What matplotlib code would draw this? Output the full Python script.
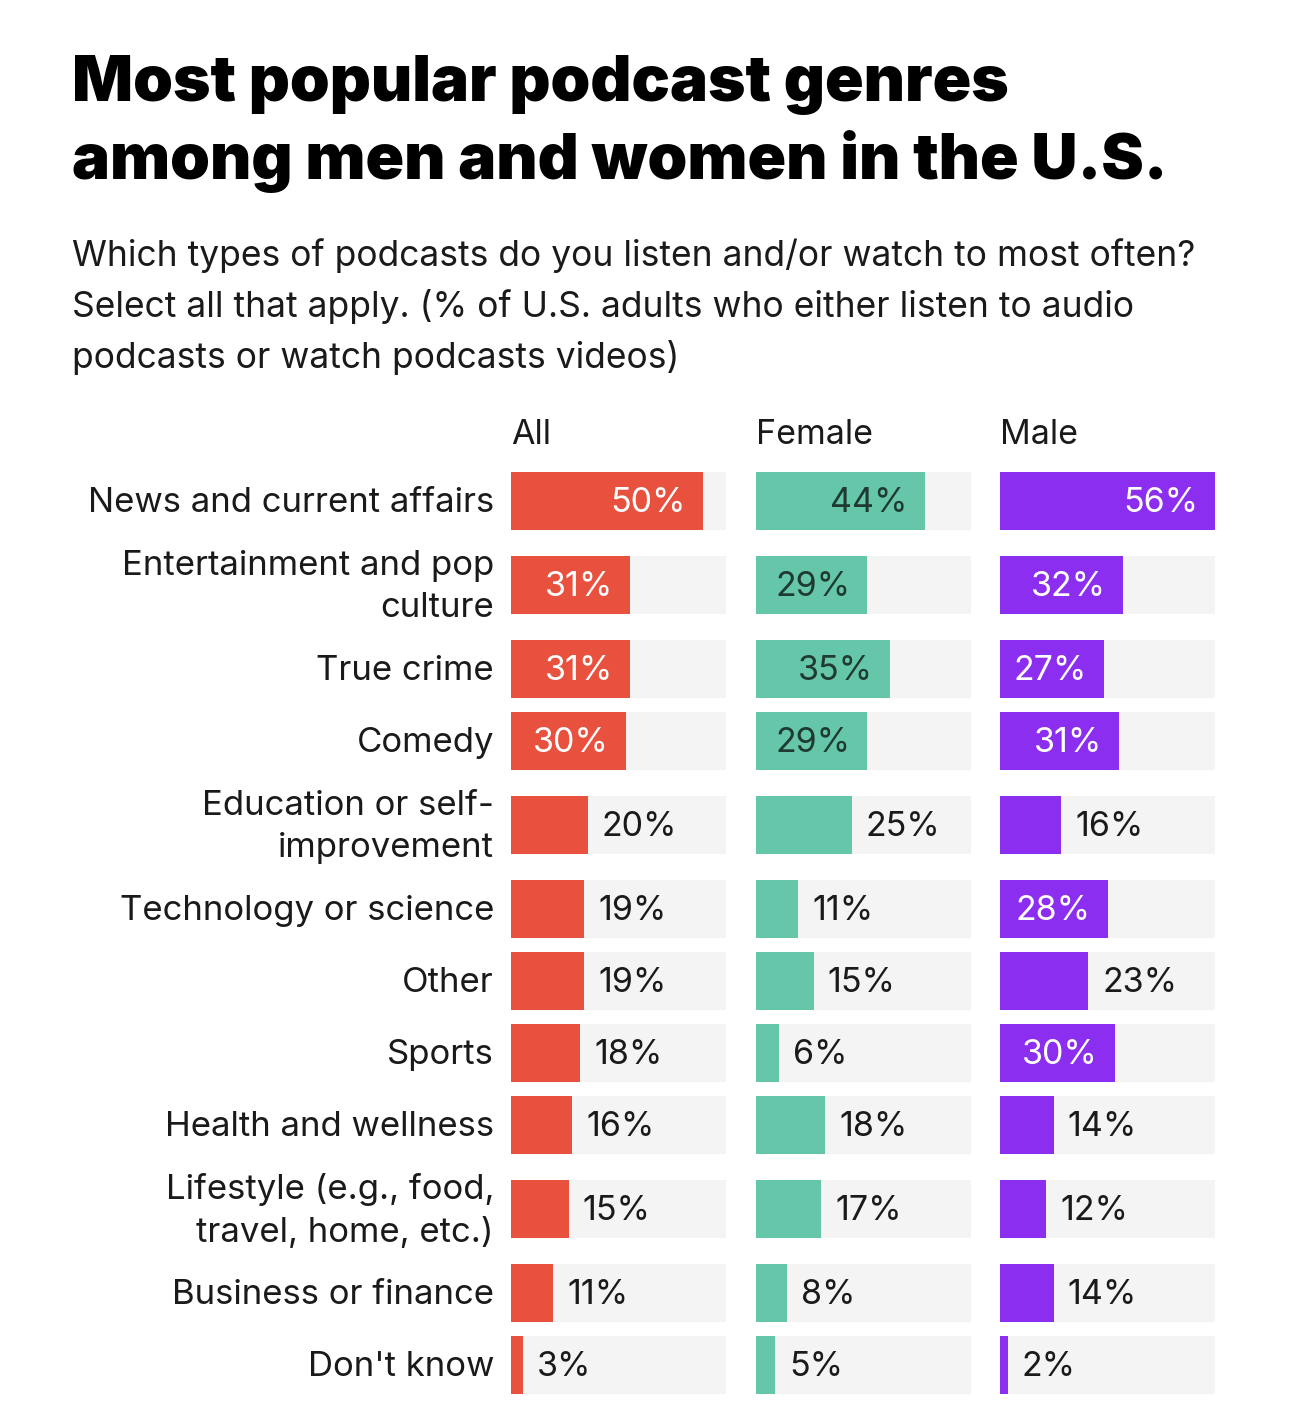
import matplotlib
matplotlib.use("Agg")
import matplotlib.pyplot as plt
from matplotlib.patches import Rectangle

# data
genres = ["News and current affairs", "Entertainment and pop\nculture", "True crime", "Comedy",
          "Education or self-\nimprovement", "Technology or science", "Other", "Sports",
          "Health and wellness", "Lifestyle (e.g., food,\ntravel, home, etc.)",
          "Business or finance", "Don't know"]
all_vals = [50, 31, 31, 30, 20, 19, 19, 18, 16, 15, 11, 3]
female_vals = [44, 29, 35, 29, 25, 11, 15, 6, 18, 17, 8, 5]
male_vals = [56, 32, 27, 31, 16, 28, 23, 30, 14, 12, 14, 2]
groups = ["All", "Female", "Male"]

title = "Most popular podcast genres\namong men and women in the U.S."
subtitle = ("Which types of podcasts do you listen and/or watch to most often?\n"
            "Select all that apply. (% of U.S. adults who either listen to audio\n"
            "podcasts or watch podcasts videos)")

colors = ["#e8513d", "#66c6aa", "#8c2ef0"]
inside_txt = ["white", "#1f3a33", "white"]
track = "#f4f4f4"
W, H = 1290, 1424
vmax = 56
inside_min = 27

plt.rcParams['font.family'] = ['Inter', 'DejaVu Sans']

fig = plt.figure(figsize=(W / 100, H / 100), dpi=100)
fig.patch.set_facecolor("white")


def fx(px):
    return px / W


def fy(py):
    return 1 - py / H


fig.text(fx(72), fy(55), title, fontsize=46, fontweight='black', va='top', ha='left',
         linespacing=1.3, color='black')
fig.text(fx(72), fy(238), subtitle, fontsize=25.5, va='top', ha='left', linespacing=1.57, color='#1a1a1a')

# row centers from number of label lines
centers = []
y = 501
prev_half = None
for g in genres:
    half = 36 + 12 * g.count("\n")
    if prev_half is not None:
        y += prev_half + half
    centers.append(y)
    prev_half = half

top, bottom = 460, 1410
panel_x = [511, 756, 1000]
panel_w = 215
bar_h = 58

for k, vals in enumerate([all_vals, female_vals, male_vals]):
    ax = fig.add_axes([fx(panel_x[k]), fy(bottom), fx(panel_w), (bottom - top) / H])
    ax.set_xlim(0, vmax)
    ax.set_ylim(bottom, top)
    ax.axis('off')
    px_per_unit = panel_w / vmax
    for c, v in zip(centers, vals):
        ax.add_patch(Rectangle((0, c - bar_h / 2), vmax, bar_h, color=track, lw=0))
        ax.add_patch(Rectangle((0, c - bar_h / 2), v, bar_h, color=colors[k], lw=0))
        if v >= inside_min:
            ax.text(v - 17 / px_per_unit, c + 2, f"{v}%", ha='right', va='center', fontsize=24.5,
                    color=inside_txt[k])
        else:
            ax.text(v + 14 / px_per_unit, c + 2, f"{v}%", ha='left', va='center', fontsize=24.5,
                    color='#1a1a1a')
    fig.text(fx(panel_x[k]), fy(435), groups[k], fontsize=24.5, ha='left', va='center', color='#1a1a1a')

for g, c in zip(genres, centers):
    fig.text(fx(494), fy(c + 2), g, fontsize=25, ha='right', va='center', multialignment='right',
             linespacing=1.42, color='#1a1a1a')

fig.savefig("out.png", dpi=100, facecolor="white")
